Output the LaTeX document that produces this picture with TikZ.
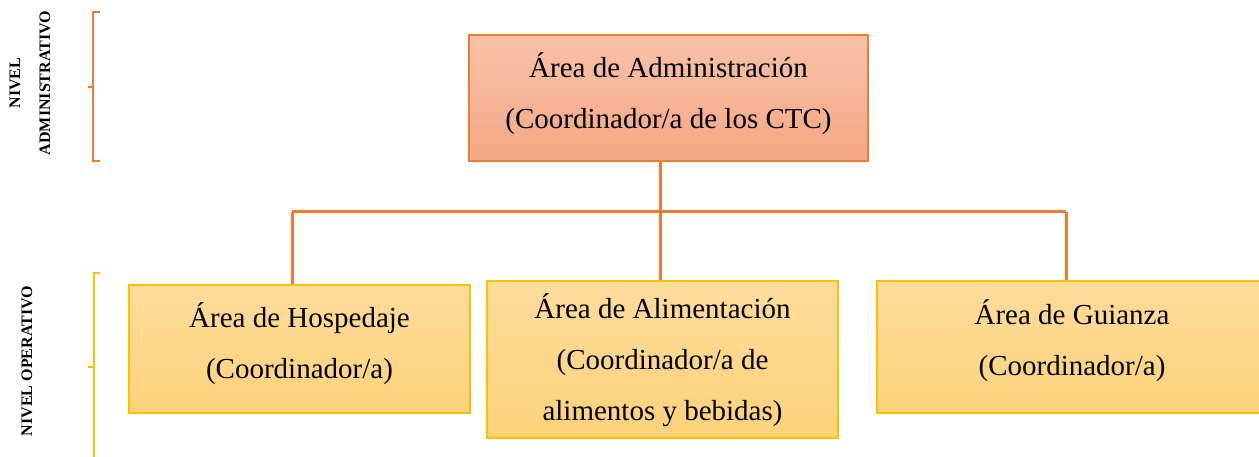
\documentclass[tikz,border=0pt]{standalone}
\usepackage{fontspec}
\setmainfont{Liberation Serif}
\definecolor{naranja}{HTML}{ED7D31}
\definecolor{salmonA}{HTML}{F8C2A8}
\definecolor{salmonB}{HTML}{F4A783}
\definecolor{oro}{HTML}{FFC000}
\definecolor{cremaA}{HTML}{FEDC9B}
\definecolor{cremaB}{HTML}{FDD27A}
% texto centrado, subido por una profundidad extra
\newcommand{\cajatexto}[2][0pt]{\raisebox{0pt}[\height][\dimexpr\depth+#1\relax]{\begin{tabular}{@{}c@{}}#2\end{tabular}}}

\begin{document}
\begin{tikzpicture}[x=0.5pt,y=-0.5pt,
  jefe/.style={shape=rectangle,draw=naranja,line width=1pt,top color=salmonA,bottom color=salmonB,
    align=center,font=\fontsize{14.5}{25.5}\selectfont,inner sep=0pt},
  area/.style={shape=rectangle,draw=oro,line width=1pt,top color=cremaA,bottom color=cremaB,
    align=center,font=\fontsize{14.5}{25.5}\selectfont,inner sep=0pt},
  nivel/.style={rotate=90,align=center,font=\fontsize{8}{15}\selectfont\bfseries},
  conn/.style={draw=naranja,line width=1.5pt}]
\useasboundingbox (0,0) rectangle (1259,456);
% niveles
\node (adm) at (30,83) [nivel] {NIVEL\\ADMINISTRATIVO};
\node (ope) at (27,361) [nivel] {NIVEL OPERATIVO};
\draw [naranja,line width=1pt] (100,12) -- (93,12) -- (93,161) -- (100,161);
\draw [naranja,line width=1pt] (88,87) -- (93,87);
\draw [oro,line width=1pt] (100,273) -- (94,273) -- (94,470);
\draw [oro,line width=1pt] (88,367) -- (94,367);
% cajas
\node (admin) at (668.5,98) [jefe,minimum width=199.5pt,minimum height=63pt]
  {\cajatexto[5pt]{Área de Administración\\(Coordinador/a de los CTC)}};
\node (hosp) at (299.5,349) [area,minimum width=170.5pt,minimum height=64pt]
  {\cajatexto[6pt]{Área de Hospedaje\\(Coordinador/a)}};
\node (alim) at (662.5,359.5) [area,minimum width=175.5pt,minimum height=78.5pt]
  {\cajatexto{Área de Alimentación\\(Coordinador/a de\\alimentos y bebidas)}};
\node (guia) at (1072,347) [area,minimum width=195pt,minimum height=66pt]
  {\cajatexto[7pt]{Área de Guianza\\(Coordinador/a)}};
% conectores
\coordinate (busL) at (292,211.5);
\coordinate (busM) at (660,211.5);
\coordinate (busR) at (1066,211.5);
\draw [conn] (admin.south -| busM) -- (busM);
\draw [conn] (busL) -- (busR);
\draw [conn] (busL) -- (busL |- hosp.north);
\draw [conn] (busM) -- (busM |- alim.north);
\draw [conn] (busR) -- (busR |- guia.north);
\end{tikzpicture}
\end{document}
